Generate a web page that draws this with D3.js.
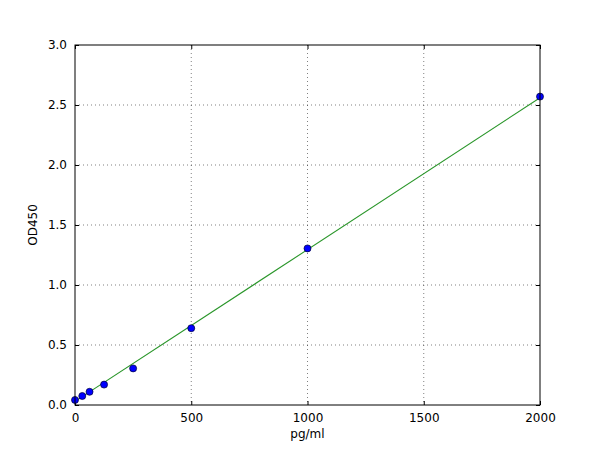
<!DOCTYPE html>
<html>
<head>
<meta charset="utf-8">
<script src="https://cdn.jsdelivr.net/npm/d3@7"></script>
<style>
  body { margin: 0; background: #fff; }
  text { font-family: "DejaVu Sans", sans-serif; }
</style>
</head>
<body>
<div id="chart"></div>
<script>
// data
const conc = [0, 31.25, 62.5, 125, 250, 500, 1000, 2000];
const od = [0.042, 0.075, 0.11, 0.17, 0.305, 0.64, 1.305, 2.57];
// fitted line, end points
const fitX = [0, 2000];
const fitY = [0.03, 2.56];
const xTicks = [0, 500, 1000, 1500, 2000];
const yTicks = [0.0, 0.5, 1.0, 1.5, 2.0, 2.5, 3.0];

const margin = { top: 45, right: 60, bottom: 45, left: 75 };
const width = 600 - margin.left - margin.right;
const height = 450 - margin.top - margin.bottom;

const x = d3.scaleLinear().domain([0, 2000]).range([0, width]);
const y = d3.scaleLinear().domain([0, 3]).range([height, 0]);

const svg = d3.select("#chart").append("svg")
  .attr("width", 600)
  .attr("height", 450)
  .append("g")
  .attr("transform", `translate(${margin.left},${margin.top})`);

// grid lines (dotted)
svg.selectAll(".xgrid")
  .data(xTicks.slice(1, -1))
  .join("line")
  .attr("x1", d => x(d)).attr("x2", d => x(d))
  .attr("y1", 0).attr("y2", height)
  .attr("stroke", "#000").attr("stroke-width", 0.5)
  .attr("stroke-dasharray", "1,3");

svg.selectAll(".ygrid")
  .data(yTicks.slice(1, -1))
  .join("line")
  .attr("x1", 0).attr("x2", width)
  .attr("y1", d => y(d)).attr("y2", d => y(d))
  .attr("stroke", "#000").attr("stroke-width", 0.5)
  .attr("stroke-dasharray", "1,3");

// axes: ticks pointing inward on all four sides
const fmtY = d3.format(".1f");
svg.append("g")
  .attr("transform", `translate(0,${height})`)
  .call(d3.axisBottom(x).tickValues(xTicks).tickFormat(d3.format("d"))
    .tickSizeInner(-4).tickSizeOuter(0).tickPadding(8))
  .call(g => g.select(".domain").remove());
svg.append("g")
  .call(d3.axisTop(x).tickValues(xTicks).tickFormat("")
    .tickSizeInner(-4).tickSizeOuter(0))
  .call(g => g.select(".domain").remove());
svg.append("g")
  .call(d3.axisLeft(y).tickValues(yTicks).tickFormat(fmtY)
    .tickSizeInner(-4).tickSizeOuter(0).tickPadding(8))
  .call(g => g.select(".domain").remove());
svg.append("g")
  .attr("transform", `translate(${width},0)`)
  .call(d3.axisRight(y).tickValues(yTicks).tickFormat("")
    .tickSizeInner(-4).tickSizeOuter(0))
  .call(g => g.select(".domain").remove());

svg.selectAll(".tick text")
  .style("font-size", "12px")
  .attr("fill", "#000");

// fitted line
const fit = fitX.map((v, i) => ({ x: v, y: fitY[i] }));
svg.append("path")
  .datum(fit)
  .attr("fill", "none")
  .attr("stroke", "#2a962a")
  .attr("stroke-width", 1.1)
  .attr("d", d3.line().x(d => x(d.x)).y(d => y(d.y)));

// points
svg.selectAll(".pt")
  .data(conc.map((c, i) => ({ c, v: od[i] })))
  .join("circle")
  .attr("cx", d => x(d.c))
  .attr("cy", d => y(d.v))
  .attr("r", 3.5)
  .attr("fill", "#0000ff")
  .attr("stroke", "#000033")
  .attr("stroke-width", 0.7);

// frame
svg.append("rect")
  .attr("width", width).attr("height", height)
  .attr("fill", "none")
  .attr("stroke", "#000")
  .attr("stroke-width", 1);

// axis titles
svg.append("text")
  .attr("x", width / 2)
  .attr("y", height + 33)
  .style("text-anchor", "middle")
  .style("font-size", "12px")
  .text("pg/ml");

svg.append("text")
  .attr("transform", `translate(-38,${height / 2}) rotate(-90)`)
  .style("text-anchor", "middle")
  .style("font-size", "12px")
  .text("OD450");
</script>
</body>
</html>
